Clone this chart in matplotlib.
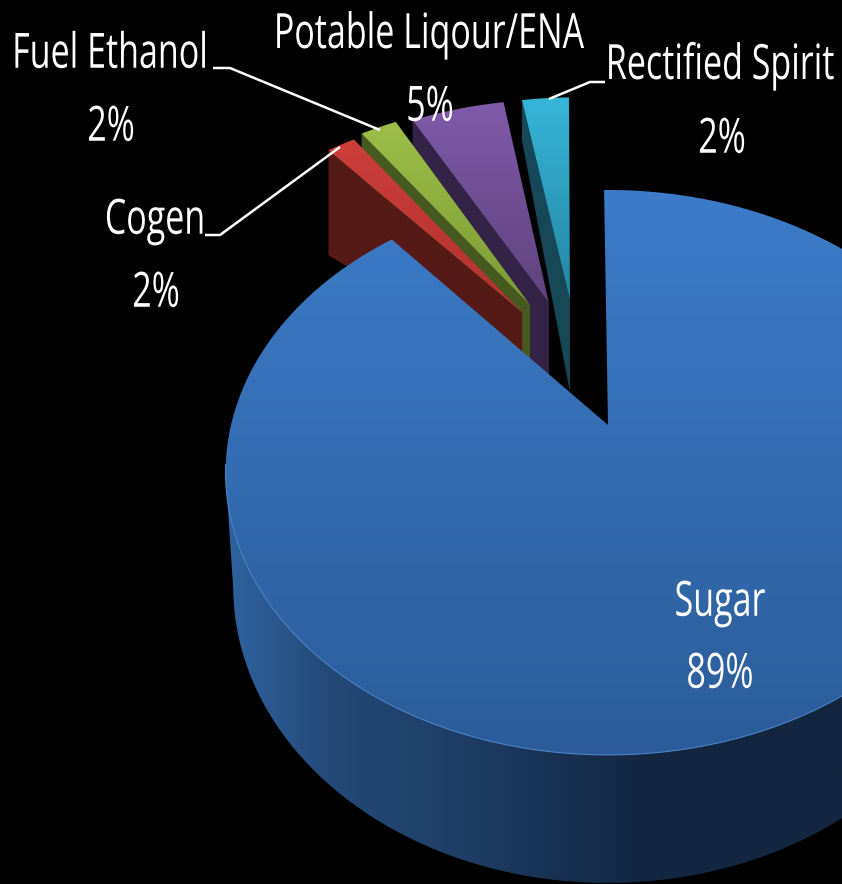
import numpy as np
import matplotlib
matplotlib.use("Agg")
import matplotlib.pyplot as plt
from matplotlib.colors import LinearSegmentedColormap
from matplotlib.patches import Polygon
from matplotlib.patheffects import AbstractPathEffect
from matplotlib.transforms import Affine2D, Bbox

# values, clockwise from 12 o'clock
names = ['Sugar', 'Cogen', 'Fuel Ethanol', 'Potable Liqour/ENA', 'Rectified Spirit']
shares = [88.8, 1.5, 1.95, 4.94, 2.49]

top_cols = [('#3D7CC9', '#2B5C99'), ('#CC3E3A', '#B2332F'), ('#9DBE48', '#7C9B35'),
            ('#7F5AA9', '#5F437E'), ('#37B5D8', '#2485A2')]
wall_cols = ['#2F639F', '#551A15', '#46591F', '#332346', '#174857']
explode_dir = [0, 331, 334.7, 340.6, 347.5]   # deg, picture has them squeezed together
explode_r = [0, 0.504, 0.522, 0.51, 0.505]
wall_outer = [0, 105, 60, 70, 40]
wall_apex = [0, 60, 90, 90, 92]

# perspective of the disc
cx, cy = 608, 425
A, B, k = 377, 274.5, 0.168
D, s = 112, 0.98
SQUEEZE = 0.70   # labels in the picture are a narrow face


def project(x, y, low=False):
    x, y = np.asarray(x, float), np.asarray(y, float)
    w = 1 + k * y
    if low:
        return cx + s * A * x / w, cy + (D - s * B * y) / w
    return cx + A * x / w, cy - B * y / w


def arc(a0, a1, n=200):
    t = np.radians(np.linspace(a0, a1, n))
    return np.sin(t), np.cos(t)


def grad_fill(ax, xy, c0, c1=None, horizontal=False, stops=None, zorder=1):
    # polygon filled with a linear gradient
    xy = np.asarray(xy)
    patch = Polygon(xy, closed=True, fc='none', ec='none', transform=ax.transData)
    ax.add_patch(patch)
    cmap = LinearSegmentedColormap.from_list('g', stops if stops else [c0, c1])
    x0, x1 = xy[:, 0].min(), xy[:, 0].max()
    y0, y1 = xy[:, 1].min(), xy[:, 1].max()
    g = np.linspace(0, 1, 256)
    g = g[None, :] if horizontal else g[:, None]
    im = ax.imshow(g, cmap=cmap, extent=(x0, x1, y1, y0), aspect='auto',
                   interpolation='bilinear', zorder=zorder)
    im.set_clip_path(patch)


class Squeeze(AbstractPathEffect):
    # squeeze the glyphs sideways around the anchor
    def __init__(self, xc, f):
        super().__init__()
        self.xc, self.f = xc, f

    def draw_path(self, renderer, gc, tpath, affine, rgbFace=None):
        aff = affine + Affine2D().translate(-self.xc, 0).scale(self.f, 1).translate(self.xc, 0)
        renderer.draw_path(gc, tpath, aff, rgbFace)


def narrow_text(ax, x, y, txt, **kw):
    t = ax.text(x, y, txt, **kw)
    xc = ax.transData.transform((x, y))[0]
    t.set_path_effects([Squeeze(xc, SQUEEZE)])
    full = t.get_window_extent

    def extent(renderer=None, dpi=None):
        b = full(renderer, dpi)
        return Bbox([[xc + (b.x0 - xc) * SQUEEZE, b.y0], [xc + (b.x1 - xc) * SQUEEZE, b.y1]])
    t.get_window_extent = extent
    return t


fig = plt.figure(figsize=(8.42, 8.84), dpi=100, facecolor='black')
ax = fig.add_axes([0, 0, 1, 1])
ax.set_facecolor('black')
ax.axis('off')
ax.set_xlim(0, 842)
ax.set_ylim(884, 0)

ends = np.cumsum(shares) * 3.6
starts = np.r_[0, ends[:-1]]

# outer wall of the big slice, from the right round to the left silhouette
tx, ty = arc(40, ends[0], 400)
x1, y1 = project(tx, ty)
x2, y2 = project(tx, ty, low=True)
n1, n2 = x1.argmin() + 1, x2.argmin() + 1
wall = np.c_[np.r_[x1[:n1], x2[:n2][::-1]], np.r_[y1[:n1], y2[:n2][::-1]]]
grad_fill(ax, wall, None, horizontal=True, zorder=1,
          stops=[(0, '#2F639F'), (0.13, '#244A78'), (0.31, '#1E3D66'),
                 (0.55, '#12263F'), (1, '#15263F')])

# exploded slices, back one first so the next one sits on its wall
for i in range(len(shares) - 1, 0, -1):
    d = np.radians(explode_dir[i])
    ox, oy = explode_r[i] * np.sin(d), explode_r[i] * np.cos(d)
    tx, ty = arc(starts[i], ends[i], 30)
    px, py = project(tx + ox, ty + oy)
    ax_, ay_ = project(ox, oy)
    z = 2 + (len(shares) - i) * 2
    # the wall on the side facing us
    wall = [(px[0], py[0]), (ax_, ay_), (ax_, ay_ + wall_apex[i]), (px[0], py[0] + wall_outer[i])]
    ax.add_patch(Polygon(wall, closed=True, fc=wall_cols[i], ec='none', zorder=z))
    grad_fill(ax, np.c_[np.r_[ax_, px], np.r_[ay_, py]], top_cols[i][0], top_cols[i][1], zorder=z + 1)

# top of the big slice goes over everything, its first edge leans a little
tx, ty = arc(starts[0] - 0.7, ends[0])
x1, y1 = project(tx, ty)
grad_fill(ax, np.c_[np.r_[cx, x1], np.r_[cy, y1]], top_cols[0][0], top_cols[0][1], zorder=20)
tx, ty = arc(110, 262)
x1, y1 = project(tx, ty)
ax.plot(x1, y1, color='#4A86CC', lw=0.8, zorder=21)

# leader lines
line_kw = dict(color='white', lw=1.8, zorder=25, solid_capstyle='butt')
ax.plot([213, 230, 380], [68, 68, 130], **line_kw)
ax.plot([205, 220, 340], [235, 235, 147], **line_kw)
ax.plot([605, 590, 549], [82, 82, 99], **line_kw)

# labels
label_pos = {'Sugar': (720, 603, 720, 675), 'Cogen': (155, 221, 156, 294),
             'Fuel Ethanol': (110, 55, 111, 128), 'Potable Liqour/ENA': (429, 35, 430, 108),
             'Rectified Spirit': (720, 66, 722, 140)}
text_kw = dict(color='white', ha='center', va='center', fontsize=35, zorder=30,
               family=['Open Sans', 'DejaVu Sans'])
for name, sh in zip(names, shares):
    xa, ya, xb, yb = label_pos[name]
    narrow_text(ax, xa, ya, name, **text_kw)
    narrow_text(ax, xb, yb, f'{round(sh)}%', **text_kw)

fig.savefig('out.png', dpi=100, facecolor='black')
